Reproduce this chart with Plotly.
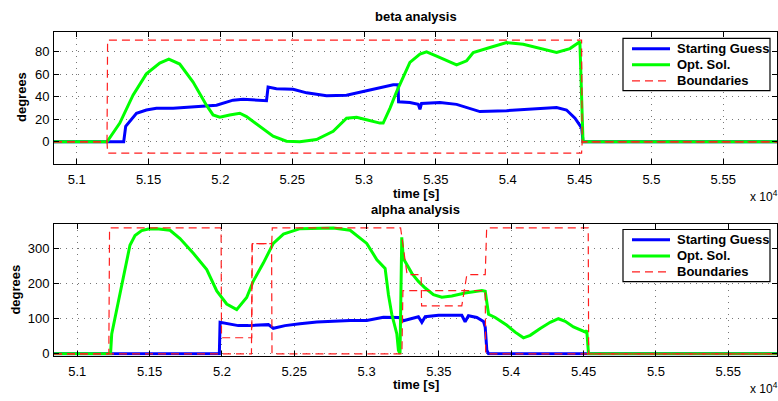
import plotly.graph_objects as go

# ---------------- beta analysis (time in s, angle in degrees) ----------------
beta_guess_t = [50842, 51327, 51341, 51416, 51485, 51555, 51671, 51857, 51973, 52088,
                52158, 52321, 52332, 52390, 52506, 52600, 52739, 52878, 52994, 53133,
                53203, 53237, 53240, 53319, 53377, 53389, 53400, 53528, 53644, 53806,
                53992, 54340, 54409, 54468, 54515, 54524, 55874]
beta_guess_v = [0, 0, 13.7, 25.3, 28.2, 29.7, 29.7, 31.1, 32.5, 36.9,
                37.8, 36.4, 48.6, 47.1, 46.5, 43.4, 40.8, 41.3, 44.8, 48.6,
                50.6, 50.6, 35.5, 34.9, 33.2, 28.8, 34.0, 34.9, 33.2, 26.8,
                27.6, 30.3, 28.2, 20.9, 12.2, 0, 0]

beta_opt_t = [50842, 51211, 51300, 51392, 51485, 51578, 51641, 51717, 51810, 51903,
              51949, 51996, 52065, 52135, 52182, 52274, 52367, 52460, 52553, 52669,
              52785, 52878, 52948, 53017, 53110, 53133, 53180, 53226, 53272, 53319,
              53389, 53435, 53505, 53644, 53714, 53760, 53876, 53992, 54108, 54224,
              54340, 54433, 54502, 54524, 55874]
beta_opt_v = [0, 0, 16.6, 41.3, 60.2, 69.8, 73.3, 68.9, 52.9, 32.5,
              23.8, 21.8, 23.8, 25.3, 22.4, 13.7, 5.0, 0.6, 0.0, 2.0,
              9.3, 20.9, 21.8, 19.5, 16.6, 16.6, 29.7, 44.2, 57.3, 70.4,
              77.7, 79.7, 75.9, 68.1, 71.8, 79.1, 83.5, 87.9, 86.4, 82.6,
              79.1, 82.6, 88.7, 0, 0]

beta_bound_t = [50842, 51211, 51215, 54514, 54518, 55874]
beta_upper = [0, 0, 90, 90, 0, 0]
beta_lower = [0, 0, -10, -10, 0, 0]

# ---------------- alpha analysis ----------------
alpha_guess_t = [50839, 51982, 51987, 52021, 52113, 52183, 52321, 52355, 52436, 52539,
                 52656, 52886, 53001, 53116, 53220, 53243, 53254, 53358, 53382, 53405,
                 53497, 53658, 53681, 53704, 53762, 53808, 53820, 53831, 53843, 55837]
alpha_guess_v = [0, 0, 89.9, 87.0, 80.6, 80.6, 83.4, 73.0, 80.6, 86.2,
                 90.7, 95.5, 95.5, 104.8, 104.0, 99.2, 94.6, 105.9, 89.9, 105.9,
                 110.4, 110.4, 91.8, 108.7, 104.0, 92.7, 75.8, 10.4, 0, 0]

alpha_opt_t = [50839, 51230, 51238, 51261, 51284, 51307, 51342, 51364, 51399, 51445,
               51491, 51549, 51641, 51710, 51802, 51895, 51964, 52033, 52102, 52171,
               52217, 52286, 52355, 52425, 52540, 52770, 52886, 53001, 53071, 53128,
               53151, 53174, 53209, 53220, 53231, 53243, 53254, 53278, 53313, 53358,
               53405, 53462, 53520, 53589, 53681, 53797, 53820, 53843, 53889, 53970,
               54027, 54084, 54131, 54200, 54269, 54326, 54373, 54430, 54511, 54522,
               54534, 55837]
alpha_opt_v = [0, 0, 57, 104, 151, 197.5, 272.5, 310, 338, 352,
               356.7, 357.6, 353, 329.5, 287.4, 240.7, 179.8, 142.4, 126.4, 161,
               207.9, 259.3, 315.4, 341.9, 357.6, 359.6, 353, 315.4, 268.8, 244,
               169, 113, 57, 10, 0, 333, 272.5, 253.7, 230, 207,
               188, 169, 162, 165, 174, 180.6, 179, 113, 104, 81.5,
               62, 45.8, 53, 72.2, 90, 100.3, 93, 76.7, 62.6, 66.6,
               0, 0]

alpha_upper_t = [50839, 51218, 51223, 51994, 51997, 52206, 52210, 52344, 52348, 53235,
                 53280, 53377, 53380, 53658, 53693, 53820, 53830, 54532, 54535, 55837]
alpha_upper = [0, 0, 360, 360, 46, 46, 315, 315, 360, 360,
               226, 226, 137, 137, 226, 226, 360, 360, 0, 0]
alpha_lower_t = [50839, 52204, 52208, 52343, 52346, 53244, 53251, 53820, 53823, 55837]
alpha_lower = [0, 0, 315, 315, 0, 0, 180.6, 180.6, 0, 0]

# ---------------- axis labels / legend ----------------
x_ticks = [51000, 51500, 52000, 52500, 53000, 53500, 54000, 54500, 55000, 55500]
x_tick_text = ["5.1", "5.15", "5.2", "5.25", "5.3", "5.35", "5.4", "5.45", "5.5", "5.55"]
beta_ticks = [0, 20, 40, 60, 80]
alpha_ticks = [0, 100, 200, 300]
legend_names = ["Starting Guess", "Opt. Sol.", "Boundaries"]

FONT = "Liberation Sans, Arial, Helvetica, sans-serif"
BLUE = "#0000ff"
GREEN = "#00ff00"
RED = "rgb(255,30,30)"
DASH = "8px,5px"

W, H = 778, 401
X0, X1 = 54, 777
TOP_Y0, TOP_Y1 = 32, 166
BOT_Y0, BOT_Y1 = 227, 361


def py(px):
    return 1 - px / H


line_styles = [dict(color=BLUE, width=3), dict(color=GREEN, width=3),
               dict(color=RED, width=1.2, dash=DASH)]

fig = go.Figure()


def add_panel(xa, ya, guess_t, guess_v, opt_t, opt_v, bounds):
    fig.add_trace(go.Scatter(x=guess_t, y=guess_v, mode="lines", name=legend_names[0],
                             line=line_styles[0], xaxis=xa, yaxis=ya, showlegend=False))
    fig.add_trace(go.Scatter(x=opt_t, y=opt_v, mode="lines", name=legend_names[1],
                             line=line_styles[1], xaxis=xa, yaxis=ya, showlegend=False))
    for bt, bv in bounds:
        fig.add_trace(go.Scatter(x=bt, y=bv, mode="lines", name=legend_names[2],
                                 line=line_styles[2], xaxis=xa, yaxis=ya, showlegend=False))


add_panel("x", "y", beta_guess_t, beta_guess_v, beta_opt_t, beta_opt_v,
          [(beta_bound_t, beta_upper), (beta_bound_t, beta_lower)])
add_panel("x2", "y2", alpha_guess_t, alpha_guess_v, alpha_opt_t, alpha_opt_v,
          [(alpha_upper_t, alpha_upper), (alpha_lower_t, alpha_lower)])

axis_common = dict(
    showline=True, linecolor="black", linewidth=1, mirror="ticks",
    ticks="inside", ticklen=5, tickcolor="black", tickwidth=1,
    showgrid=True, gridcolor="#777777", gridwidth=1, griddash="1px,5px",
    zeroline=False, tickfont=dict(family=FONT, size=13, color="black"),
)

fig.update_layout(
    width=W, height=H, margin=dict(l=0, r=0, t=0, b=0),
    paper_bgcolor="white", plot_bgcolor="white", showlegend=False,
    xaxis=dict(domain=[X0 / W, X1 / W], range=[50842, 55874], anchor="y",
               tickvals=x_ticks, ticktext=x_tick_text, ticklabelstandoff=4, **axis_common),
    yaxis=dict(domain=[py(TOP_Y1), py(TOP_Y0)], range=[-19.2, 97.7], anchor="x",
               tickvals=beta_ticks, ticklabelstandoff=1, **axis_common),
    xaxis2=dict(domain=[X0 / W, X1 / W], range=[50839, 55837], anchor="y2",
                tickvals=x_ticks, ticktext=x_tick_text, ticklabelstandoff=4, **axis_common),
    yaxis2=dict(domain=[py(BOT_Y1), py(BOT_Y0)], range=[-5, 372], anchor="x2",
                tickvals=alpha_ticks, ticklabelstandoff=1, **axis_common),
)

# legend boxes (one per panel), drawn in page coordinates
for top in (39, 233):
    fig.add_shape(type="rect", xref="paper", yref="paper",
                  x0=623 / W, x1=770 / W, y0=py(top + 53), y1=py(top),
                  line=dict(color="black", width=1.2), fillcolor="white", layer="above")
    for i, (name, style) in enumerate(zip(legend_names, line_styles)):
        yc = top + 10.5 + i * 16.3
        fig.add_shape(type="line", xref="paper", yref="paper",
                      x0=632 / W, x1=670 / W, y0=py(yc), y1=py(yc),
                      line=style, layer="above")
        fig.add_annotation(xref="paper", yref="paper", showarrow=False, text=name,
                           x=675 / W, y=py(yc), xanchor="left", yanchor="middle",
                           font=dict(family=FONT, size=13, color="black", weight="bold"))

bold = dict(family=FONT, size=13, color="black", weight="bold")
notes = [
    dict(text="beta analysis", x=(X0 + X1) / 2 / W, y=py(17), font=bold),
    dict(text="alpha analysis", x=(X0 + X1) / 2 / W, y=py(213), font=bold),
    dict(text="time [s]", x=(X0 + X1) / 2 / W, y=py(196), font=bold),
    dict(text="time [s]", x=(X0 + X1) / 2 / W, y=py(390.5), font=bold),
    dict(text="degrees", x=21.5 / W, y=py(99), font=bold, textangle=-90),
    dict(text="degrees", x=16 / W, y=py(294), font=bold, textangle=-90),
]
for n in notes:
    fig.add_annotation(xref="paper", yref="paper", showarrow=False,
                       xanchor="center", yanchor="middle", **n)

for yc in (199, 394):
    fig.add_annotation(xref="paper", yref="paper", showarrow=False,
                       text="x 10<sup>4</sup>", x=748 / W, y=py(yc),
                       xanchor="left", yanchor="middle",
                       font=dict(family=FONT, size=12, color="black"))

fig.write_html("out.html")
